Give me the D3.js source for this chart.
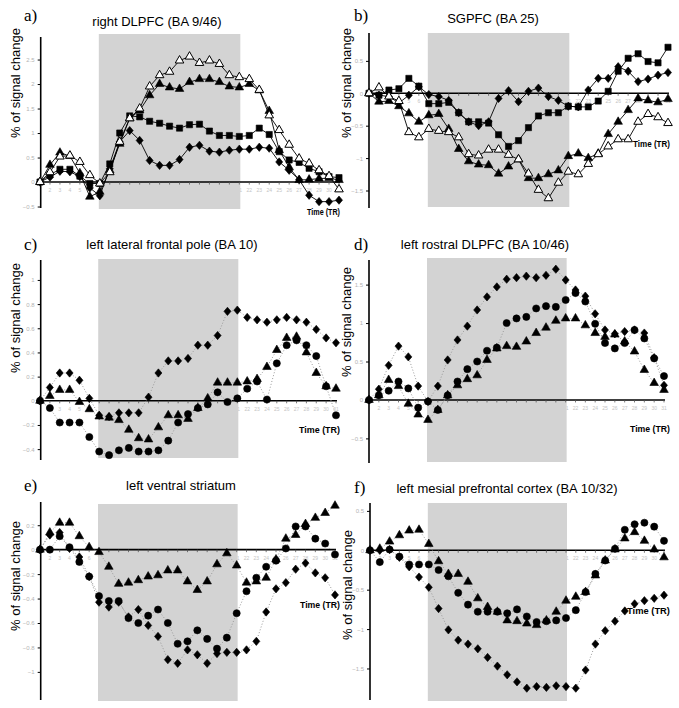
<!DOCTYPE html>
<html><head><meta charset="utf-8">
<script src="https://cdn.jsdelivr.net/npm/d3@7/dist/d3.min.js"></script>
<style>body{margin:0;background:#fff}</style>
</head><body>
<svg id="chart" width="679" height="708"></svg>
<script>
// ---- data ----
const timePoints = d3.range(31);           // TR index 0..30
const blockStart = 5.9, blockEnd = 20.1;   // shaded task block (TR)

const aSquare   = [0,0.15,0.26,0.26,0.12,-0.03,-0.03,0.37,1.0,1.35,1.33,1.24,1.2,1.14,1.1,1.17,1.18,1.04,0.95,0.95,0.93,0.95,1.1,0.97,0.62,0.45,0.4,0.28,0.21,0.11,0.09];
const aDiamond  = [0,0.1,0.22,0.21,0.11,-0.12,-0.28,0.27,0.82,1.05,0.85,0.44,0.34,0.34,0.46,0.71,0.75,0.63,0.61,0.65,0.67,0.67,0.71,0.69,0.41,0.24,0.05,-0.27,-0.4,-0.4,-0.37];
const aTriangle = [0,0.35,0.6,0.53,0.18,-0.3,-0.2,0.24,0.78,1.3,1.46,1.77,2.0,1.93,1.9,2.04,2.1,2.1,2.04,1.95,1.93,2.0,1.87,1.45,0.65,0.3,0.04,0.05,0.07,0.08,0.04];
const aOpenTri  = [0,0.2,0.52,0.54,0.41,0.14,-0.03,0.2,0.82,1.3,1.5,1.95,2.18,2.25,2.48,2.56,2.43,2.48,2.41,2.18,2.14,2.1,1.88,1.36,1.06,0.76,0.48,0.38,0.24,0.12,-0.15];

const bSquare   = [0,-0.03,0.05,0.07,0.23,0.11,-0.16,-0.16,-0.14,-0.3,-0.44,-0.44,-0.46,-0.64,-0.82,-0.73,-0.53,-0.35,-0.3,-0.3,-0.2,-0.21,-0.21,-0.12,0.03,0.34,0.54,0.61,0.49,0.47,0.71];
const bDiamond  = [0,-0.03,-0.05,-0.15,-0.03,0.1,-0.02,-0.05,-0.11,-0.3,-0.44,-0.5,-0.44,-0.08,0.04,-0.13,0.03,0.08,-0.05,-0.11,-0.2,-0.21,0.05,0.23,0.23,0.41,0.34,0.18,0.22,0.28,0.32];
const bTriangle = [0,-0.13,-0.12,-0.2,-0.31,-0.44,-0.34,-0.32,-0.55,-0.86,-1.05,-1.1,-1.11,-1.24,-1.13,-1.02,-1.31,-1.31,-1.25,-1.19,-0.97,-0.93,-1.0,-0.93,-0.63,-0.44,-0.26,-0.08,-0.11,-0.14,-0.09];
const bOpenTri  = [0,0.09,-0.05,-0.12,-0.6,-0.68,-0.55,-0.58,-0.6,-0.68,-0.94,-0.96,-0.87,-0.87,-0.95,-1.02,-1.24,-1.49,-1.62,-1.38,-1.21,-1.25,-1.09,-0.94,-0.82,-0.71,-0.71,-0.44,-0.32,-0.37,-0.46];

const cDiamond  = [0,0.11,0.23,0.23,0.17,0.02,-0.12,-0.13,-0.1,-0.1,-0.1,0.03,0.23,0.33,0.33,0.35,0.46,0.46,0.54,0.74,0.75,0.69,0.67,0.65,0.67,0.69,0.67,0.65,0.59,0.52,0.48];
const cTriangle = [0,0.04,0.09,0.09,-0.01,-0.07,-0.13,-0.14,-0.16,-0.24,-0.31,-0.32,-0.22,-0.12,-0.12,-0.15,-0.06,0.02,0.15,0.15,0.15,0.16,0.18,0.28,0.42,0.52,0.53,0.4,0.23,0.12,0.1];
const cCircle   = [0,-0.06,-0.18,-0.18,-0.18,-0.3,-0.42,-0.45,-0.41,-0.39,-0.42,-0.42,-0.41,-0.33,-0.18,-0.11,-0.06,-0.03,0.07,-0.01,0.02,0.1,0.16,0.01,0.31,0.46,0.5,0.46,0.37,0.12,-0.12];

const dDiamond  = [0,0.14,0.45,0.7,0.56,0.18,-0.02,0.18,0.52,0.78,0.96,1.17,1.34,1.47,1.57,1.59,1.61,1.59,1.62,1.7,1.56,1.43,1.35,1.12,0.91,0.86,0.89,0.91,0.87,0.55,0.19];
const dCircle   = [0,0.06,0.12,0.24,0.15,-0.1,-0.02,-0.13,0.06,0.24,0.4,0.5,0.64,0.68,1.0,1.06,1.08,1.19,1.22,1.21,1.3,1.39,1.28,0.99,0.74,0.67,0.74,0.91,0.8,0.54,0.31];
const dTriangle = [0,0.06,0.26,0.18,-0.05,-0.19,-0.26,-0.13,0.06,0.19,0.27,0.32,0.52,0.67,0.7,0.69,0.76,0.87,0.94,1.03,1.06,1.06,0.97,0.87,0.82,0.85,0.76,0.63,0.39,0.22,0.13];

const eTriangle = [0,0.14,0.22,0.22,0.11,0.02,-0.02,-0.14,-0.28,-0.27,-0.25,-0.22,-0.21,-0.17,-0.17,-0.26,-0.33,-0.26,-0.12,-0.03,-0.13,-0.27,-0.26,-0.23,-0.08,0.09,0.12,0.21,0.26,0.3,0.36];
const eCircle   = [0,0.0,0.11,0.02,-0.1,-0.22,-0.38,-0.42,-0.42,-0.56,-0.6,-0.54,-0.49,-0.6,-0.77,-0.75,-0.66,-0.73,-0.81,-0.72,-0.52,-0.34,-0.23,-0.14,-0.09,0.01,0.19,0.19,0.09,0.05,-0.04];
const eDiamond  = [0,0.12,0.14,0.01,-0.06,-0.22,-0.43,-0.47,-0.43,-0.55,-0.49,-0.62,-0.71,-0.9,-0.93,-0.82,-0.86,-0.93,-0.85,-0.84,-0.84,-0.82,-0.75,-0.51,-0.32,-0.27,-0.16,-0.11,-0.19,-0.23,-0.37];

const fTriangle = [0,0.02,0.11,0.19,0.25,0.26,0.08,-0.14,-0.3,-0.3,-0.4,-0.61,-0.72,-0.78,-0.89,-0.9,-0.93,-0.95,-0.89,-0.78,-0.64,-0.59,-0.53,-0.32,-0.13,0.01,0.15,0.23,0.12,0.01,-0.09];
const fCircle   = [0,-0.15,0.01,-0.08,-0.18,-0.18,-0.18,-0.25,-0.33,-0.54,-0.69,-0.78,-0.78,-0.78,-0.8,-0.75,-0.84,-0.91,-0.9,-0.89,-0.86,-0.76,-0.53,-0.3,-0.13,0.02,0.26,0.33,0.35,0.3,0.12];
const fDiamond  = [0,0,0.01,-0.09,-0.21,-0.34,-0.47,-0.74,-1.01,-1.14,-1.19,-1.25,-1.36,-1.47,-1.58,-1.67,-1.75,-1.73,-1.74,-1.72,-1.73,-1.75,-1.52,-1.19,-1.02,-0.9,-0.77,-0.68,-0.64,-0.61,-0.57];

const aTicks = [-0.5,0,0.5,1,1.5,2,2.5];
const bTicks = [-1.5,-1,-0.5,0,0.5];
const cTicks = [-0.4,-0.2,0,0.2,0.4,0.6,0.8,1];
const dTicks = [-0.5,0,0.5,1,1.5];
const eTicks = [-1,-0.8,-0.6,-0.4,-0.2,0,0.2];
const fTicks = [-1.5,-1,-0.5,0,0.5];

const letters = ["a)","b)","c)","d)","e)","f)"];
const titles = ["right DLPFC (BA 9/46)","SGPFC (BA 25)","left lateral frontal pole (BA 10)",
                "left rostral DLPFC (BA 10/46)","left ventral striatum","left mesial prefrontal cortex (BA 10/32)"];
const yLabel = "% of signal change";
const xLabel = "Time (TR)";

// ---- layout ----
const layouts = [
 {series:[[aSquare,"square"],[aDiamond,"diamond"],[aTriangle,"triangle"],[aOpenTri,"open"]], ticks:aTicks, solid:true,
  xr:[40,339], yDom:[-0.53,2.96], yRange:[208,37], shade:[34,209], ax:40.7,
  letter:[24,21], title:[157,26], ylab:[20,83], time:[340,215,33]},
 {series:[[bSquare,"square"],[bDiamond,"diamond"],[bTriangle,"triangle"],[bOpenTri,"open"]], ticks:bTicks, solid:true,
  xr:[369,668], yDom:[-1.77,0.93], yRange:[208,33], shade:[33,207], ax:369,
  letter:[354,21], title:[493,23], ylab:[351,83], time:[670,147,37]},
 {series:[[cDiamond,"diamond"],[cTriangle,"triangle"],[cCircle,"circle"]], ticks:cTicks, solid:false,
  xr:[40,336], yDom:[-0.49,1.165], yRange:[460,260], shade:[259,458], ax:40.7,
  letter:[24,250], title:[172,249], ylab:[20,318], time:[340,433,41]},
 {series:[[dDiamond,"diamond"],[dCircle,"circle"],[dTriangle,"triangle"]], ticks:dTicks, solid:false,
  xr:[369,664], yDom:[-0.82,1.82], yRange:[463,260], shade:[258,462], ax:369,
  letter:[354,250], title:[485,249], ylab:[351,322], time:[670,432,40]},
 {series:[[eTriangle,"triangle"],[eCircle,"circle"],[eDiamond,"diamond"]], ticks:eTicks, solid:false,
  xr:[40,335], yDom:[-1.23,0.39], yRange:[700,502], shade:[504,701], ax:40.7,
  letter:[24,491], title:[181,490], ylab:[20,576], time:[340,608,40]},
 {series:[[fTriangle,"triangle"],[fCircle,"circle"],[fDiamond,"diamond"]], ticks:fTicks, solid:false,
  xr:[370,664], yDom:[-1.9,0.6], yRange:[700,503], shade:[503,701], ax:370,
  letter:[354,493], title:[507,493], ylab:[352,585], time:[670,614,43]}
];

const svg = d3.select("#chart");
// compact diamond (about 7 wide x 8 tall)
const diamondType = { draw(ctx, size) {
  const h = Math.sqrt(size) * 0.72, w = h * 0.85;
  ctx.moveTo(0, -h); ctx.lineTo(w, 0); ctx.lineTo(0, h); ctx.lineTo(-w, 0); ctx.closePath();
}};
const symbols = {
  square: d3.symbol().type(d3.symbolSquare).size(38),
  diamond: d3.symbol().type(diamondType).size(33),
  triangle: d3.symbol().type(d3.symbolTriangle).size(32),
  open: d3.symbol().type(d3.symbolTriangle).size(32),
  circle: d3.symbol().type(d3.symbolCircle).size(40)
};

layouts.forEach((L, i) => {
  const g = svg.append("g");
  const x = d3.scaleLinear().domain([0, 30]).range(L.xr);
  const y = d3.scaleLinear().domain(L.yDom).range(L.yRange);
  const y0 = y(0);

  // x tick labels (faint)
  g.selectAll(".xt").data(timePoints.slice(1)).enter().append("text")
    .attr("x", d => x(d)).attr("y", y0 + 10)
    .attr("text-anchor", "middle").attr("font-family", "Liberation Sans, Arial, sans-serif")
    .attr("font-size", 5).attr("fill", "#c4c4c4").text(d => d + 1);

  // shaded block
  g.append("rect").attr("x", x(blockStart)).attr("width", x(blockEnd) - x(blockStart))
    .attr("y", L.shade[0]).attr("height", L.shade[1] - L.shade[0]).attr("fill", "#d3d3d3");

  // zero line with small ticks
  g.append("line").attr("x1", L.ax).attr("x2", L.xr[1] + 1).attr("y1", y0).attr("y2", y0)
    .attr("stroke", "#000").attr("stroke-width", 1.6);
  g.selectAll(".zt").data(timePoints).enter().append("line")
    .attr("x1", d => x(d)).attr("x2", d => x(d)).attr("y1", y0).attr("y2", y0 + 2.5)
    .attr("stroke", "#555").attr("stroke-width", 0.8);

  // y axis
  const yAxis = d3.axisLeft(y).tickValues(L.ticks).tickSize(3).tickFormat(d3.format("~g"));
  const ag = g.append("g").attr("transform", `translate(${L.ax},0)`).call(yAxis);
  ag.select(".domain").attr("d", `M0,${L.yRange[1]}V${L.yRange[0]}`).attr("stroke", "#000").attr("stroke-width", 1.6);
  ag.selectAll(".tick line").attr("stroke", "#000");
  ag.selectAll(".tick text").attr("font-size", 6).attr("fill", "#b4b4b4").attr("x", -6)
    .attr("font-family", "Liberation Sans, Arial, sans-serif");

  // series lines
  const line = d3.line().x((d, k) => x(timePoints[k])).y(d => y(d));
  L.series.forEach(([vals]) => {
    g.append("path").attr("d", line(vals)).attr("fill", "none")
      .attr("stroke", L.solid ? "#000" : "#9a9a9a")
      .attr("stroke-width", L.solid ? 0.9 : 1)
      .attr("stroke-dasharray", L.solid ? null : "1,2");
  });
  // markers
  L.series.forEach(([vals, shape]) => {
    g.selectAll(null).data(vals).enter().append("path")
      .attr("transform", (d, k) => `translate(${x(timePoints[k])},${y(d)})`)
      .attr("d", symbols[shape]())
      .attr("fill", shape === "open" ? "#fff" : "#000")
      .attr("stroke", "#000").attr("stroke-width", shape === "open" ? 1 : 0.6);
  });

  // texts
  g.append("text").attr("x", L.letter[0]).attr("y", L.letter[1])
    .attr("font-family", "Liberation Serif, Times New Roman, serif").attr("font-size", 17).text(letters[i]);
  g.append("text").attr("x", L.title[0]).attr("y", L.title[1]).attr("text-anchor", "middle")
    .attr("font-family", "Liberation Sans, Arial, sans-serif").attr("font-size", 13).text(titles[i]);
  g.append("text").attr("transform", `translate(${L.ylab[0]},${L.ylab[1]}) rotate(-90)`)
    .attr("text-anchor", "middle").attr("font-family", "Liberation Sans, Arial, sans-serif")
    .attr("font-size", 13).text(yLabel);
  g.append("text").attr("x", L.time[0]).attr("y", L.time[1]).attr("text-anchor", "end")
    .attr("font-family", "Liberation Sans, Arial, sans-serif").attr("font-size", 9.5).attr("font-weight", "bold")
    .attr("textLength", L.time[2]).attr("lengthAdjust", "spacingAndGlyphs").text(xLabel);
});
</script>
</body></html>
